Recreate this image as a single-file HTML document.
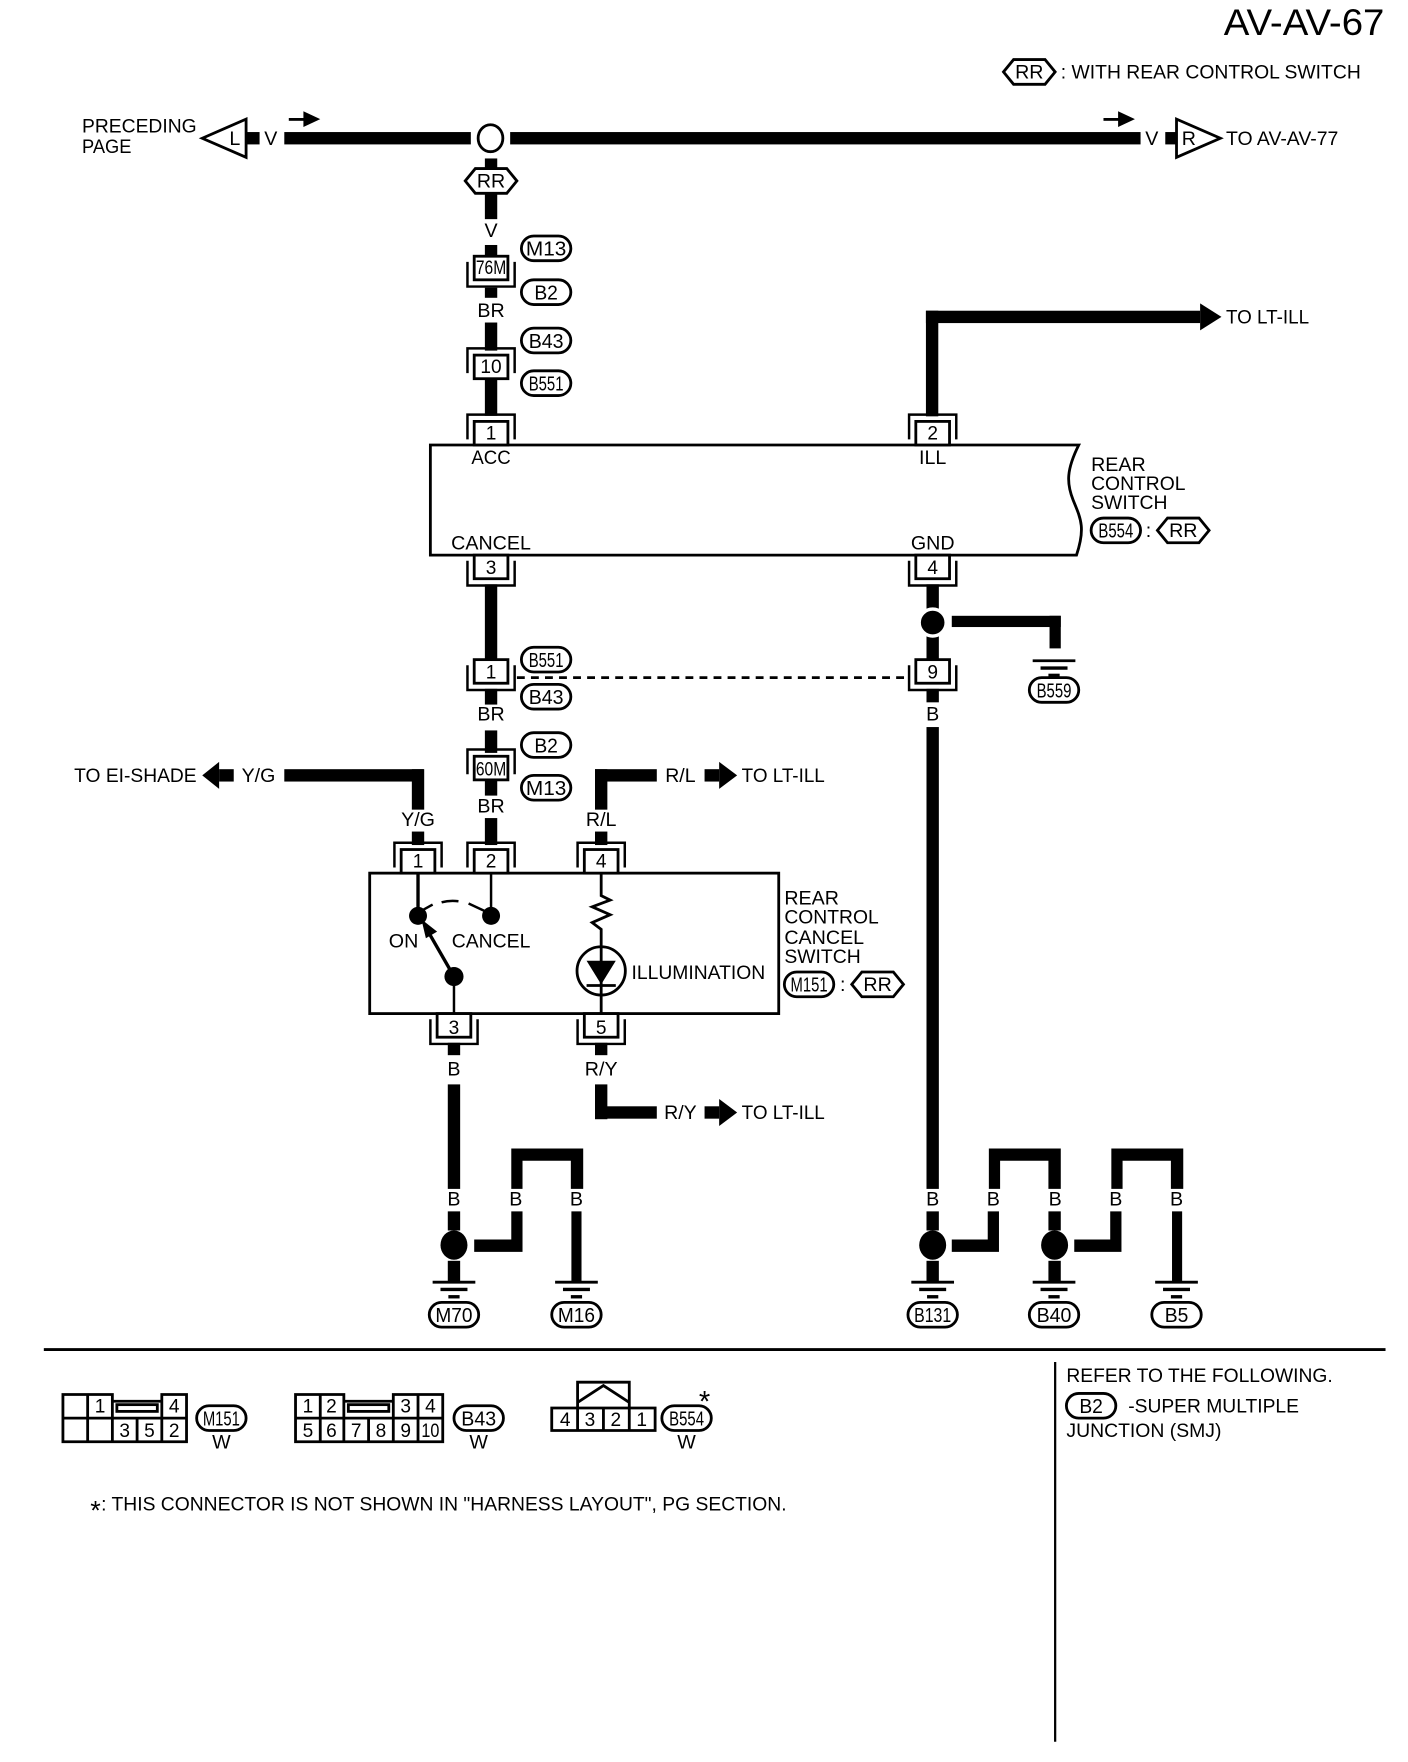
<!DOCTYPE html>
<html><head><meta charset="utf-8"><title>AV-AV-67</title>
<style>
html,body{margin:0;padding:0;background:#fff}
svg{display:block}
text{font-family:"Liberation Sans",sans-serif;font-size:17.5px;fill:#000}
.m{text-anchor:middle}
.n{font-size:17px;text-anchor:middle}
.p{font-size:18px;text-anchor:middle}
</style></head><body>
<svg width="1408" height="1762" viewBox="0 0 1253 1568" xmlns="http://www.w3.org/2000/svg">
<defs>
<g id="cT"><path d="M-21 22V0H21V22" fill="none" stroke="#000" stroke-width="2.2"/><rect x="-15" y="6" width="30" height="21" fill="#fff" stroke="#000" stroke-width="2.5"/></g>
<g id="cB"><path d="M-21 5V27H21V5" fill="none" stroke="#000" stroke-width="2.2"/><rect x="-15" y="0" width="30" height="21" fill="#fff" stroke="#000" stroke-width="2.5"/></g>
<polygon id="hx" points="-23,0 -14,-11 14,-11 23,0 14,11 -14,11" fill="#fff" stroke="#000" stroke-width="2.5"/>
<rect id="pl" x="-22" y="-11" width="44" height="22" rx="11" fill="#fff" stroke="#000" stroke-width="2.5"/>
<g id="gd"><path d="M-19 0H19" stroke="#000" stroke-width="2.5"/><path d="M-12 6.5H12" stroke="#000" stroke-width="3"/><path d="M-5 13H5" stroke="#000" stroke-width="3"/></g>
</defs>

<!-- title -->
<text x="1089" y="31" style="font-size:33px" textLength="143" lengthAdjust="spacingAndGlyphs">AV-AV-67</text>
<use href="#hx" x="916" y="64"/><text class="m" x="916" y="70">RR</text>
<text x="944" y="70" textLength="267" lengthAdjust="spacingAndGlyphs">: WITH REAR CONTROL SWITCH</text>

<!-- top wires -->
<g fill="#000">
<rect x="220" y="117.5" width="11" height="11"/>
<rect x="253" y="117.5" width="166" height="11"/>
<rect x="454" y="117.5" width="561" height="11"/>
<rect x="1037" y="117.5" width="10" height="11"/>
<rect x="257" y="105" width="14" height="2.5"/><polygon points="270,99 285,106 270,113"/>
<rect x="982" y="105" width="14" height="2.5"/><polygon points="995,99 1010,106 995,113"/>
</g>
<polygon points="180,123 219,106 219,140" fill="#fff" stroke="#000" stroke-width="2.5"/>
<polygon points="1047,106 1086,123 1047,140" fill="#fff" stroke="#000" stroke-width="2.5"/>
<text class="m" x="209" y="129">L</text><text class="m" x="1058" y="129">R</text>
<text class="m" x="241" y="129">V</text><text class="m" x="1025" y="129">V</text>
<text x="73" y="118" textLength="102" lengthAdjust="spacingAndGlyphs">PRECEDING</text>
<text x="73" y="136" textLength="44" lengthAdjust="spacingAndGlyphs">PAGE</text>
<text x="1091" y="129" textLength="100" lengthAdjust="spacingAndGlyphs">TO AV-AV-77</text>
<ellipse cx="436.500" cy="123" rx="11" ry="12" fill="#fff" stroke="#000" stroke-width="2.5"/>

<!-- upper vertical wire x=437 -->
<g fill="#000">
<rect x="431.500" y="141" width="11" height="54"/>
<rect x="431.500" y="218" width="11" height="12"/>
<rect x="431.500" y="256" width="11" height="9"/>
<rect x="431.500" y="287" width="11" height="25"/>
<rect x="431.500" y="337" width="11" height="33"/>
<rect x="431.500" y="520" width="11" height="68"/>
<rect x="431.500" y="613" width="11" height="14"/>
<rect x="431.500" y="650" width="11" height="20"/>
<rect x="431.500" y="694" width="11" height="14"/>
<rect x="431.500" y="728" width="11" height="24"/>
</g>
<use href="#hx" x="437" y="161"/><text class="m" x="437" y="167">RR</text>
<text class="m" x="437" y="211">V</text>
<use href="#cB" x="437" y="228"/><text class="m" x="437" y="244" style="font-size:17px" textLength="27" lengthAdjust="spacingAndGlyphs">76M</text>
<text class="m" x="437" y="282">BR</text>
<use href="#cT" x="437" y="310"/><text class="n" x="437" y="332">10</text>
<use href="#pl" x="486" y="221"/><text class="p" x="486" y="227.500" textLength="36" lengthAdjust="spacingAndGlyphs">M13</text>
<use href="#pl" x="486" y="260"/><text class="p" x="486" y="266.500" textLength="21" lengthAdjust="spacingAndGlyphs">B2</text>
<use href="#pl" x="486" y="303"/><text class="p" x="486" y="309.500" textLength="31" lengthAdjust="spacingAndGlyphs">B43</text>
<use href="#pl" x="486" y="341"/><text class="p" x="486" y="347.500" textLength="31" lengthAdjust="spacingAndGlyphs">B551</text>

<!-- LT-ILL wire -->
<g fill="#000">
<rect x="824" y="276.500" width="244" height="11"/>
<rect x="824" y="276.500" width="11" height="94"/>
<polygon points="1068,270 1087,282 1068,294"/>
</g>
<text x="1091" y="288" textLength="74" lengthAdjust="spacingAndGlyphs">TO LT-ILL</text>

<!-- rear control switch box -->
<path d="M960 396H383V494H958C966 470 962 462 955 445C949 430 949 418 960 396Z" fill="#fff" stroke="#000" stroke-width="2.5"/>
<use href="#cT" x="437" y="369"/><text class="n" x="437" y="391">1</text>
<use href="#cT" x="830" y="369"/><text class="n" x="830" y="391">2</text>
<use href="#cB" x="437" y="494"/><text class="n" x="437" y="511">3</text>
<use href="#cB" x="830" y="494"/><text class="n" x="830" y="511">4</text>
<text class="m" x="437" y="413" textLength="35" lengthAdjust="spacingAndGlyphs">ACC</text><text class="m" x="830" y="413">ILL</text>
<text class="m" x="437" y="489">CANCEL</text><text class="m" x="830" y="489">GND</text>
<text x="971" y="419">REAR</text>
<text x="971" y="436" textLength="84" lengthAdjust="spacingAndGlyphs">CONTROL</text>
<text x="971" y="453" textLength="68" lengthAdjust="spacingAndGlyphs">SWITCH</text>
<use href="#pl" x="993" y="472"/><text class="p" x="993" y="478.500" textLength="31" lengthAdjust="spacingAndGlyphs">B554</text>
<text class="m" x="1022" y="478">:</text>
<use href="#hx" x="1053" y="472"/><text class="m" x="1053" y="478">RR</text>

<!-- gnd wire x=830 -->
<g fill="#000">
<rect x="824.500" y="520" width="11" height="68"/>
<rect x="847" y="548" width="97" height="10"/>
<rect x="934" y="548" width="10" height="29"/>
<rect x="824.500" y="613" width="11" height="12"/>
<rect x="824.500" y="647" width="11" height="411"/>
</g>
<circle cx="830" cy="554" r="12" fill="#000" stroke="#fff" stroke-width="3"/>
<use href="#gd" x="938" y="588"/>
<use href="#pl" x="938" y="614"/><text class="p" x="938" y="620.500" textLength="31" lengthAdjust="spacingAndGlyphs">B559</text>

<!-- connectors mid -->
<use href="#cB" x="437" y="587"/><text class="n" x="437" y="604">1</text>
<use href="#cB" x="830" y="587"/><text class="n" x="830" y="604">9</text>
<path d="M460 603H806" stroke="#000" stroke-width="2.5" stroke-dasharray="7 5.500"/>
<use href="#pl" x="486" y="587"/><text class="p" x="486" y="593.500" textLength="31" lengthAdjust="spacingAndGlyphs">B551</text>
<use href="#pl" x="486" y="620"/><text class="p" x="486" y="626.500" textLength="31" lengthAdjust="spacingAndGlyphs">B43</text>
<use href="#pl" x="486" y="663"/><text class="p" x="486" y="669.500" textLength="21" lengthAdjust="spacingAndGlyphs">B2</text>
<use href="#pl" x="486" y="701"/><text class="p" x="486" y="707.500" textLength="36" lengthAdjust="spacingAndGlyphs">M13</text>
<text class="m" x="437" y="641">BR</text><text class="m" x="830" y="641">B</text>
<use href="#cT" x="437" y="667"/><text class="m" x="437" y="690" style="font-size:17px" textLength="27" lengthAdjust="spacingAndGlyphs">60M</text>
<text class="m" x="437" y="723">BR</text>

<!-- Y/G and R/L -->
<g fill="#000">
<rect x="253" y="684.500" width="124" height="11"/>
<rect x="366.500" y="684.500" width="11" height="36"/>
<rect x="366.500" y="740" width="11" height="12"/>
<rect x="195" y="684.500" width="13" height="11"/><polygon points="180,690 195,678 195,702"/>
<rect x="529.500" y="684.500" width="55" height="11"/>
<rect x="529.500" y="684.500" width="11" height="36"/>
<rect x="529.500" y="740" width="11" height="12"/>
<rect x="627" y="684.500" width="13" height="11"/><polygon points="640,678 656,690 640,702"/>
</g>
<text x="66" y="696" textLength="109" lengthAdjust="spacingAndGlyphs">TO EI-SHADE</text>
<text x="215" y="696" textLength="30" lengthAdjust="spacingAndGlyphs">Y/G</text>
<text class="m" x="372" y="735">Y/G</text><text class="m" x="535" y="735">R/L</text>
<text x="592" y="696" textLength="27" lengthAdjust="spacingAndGlyphs">R/L</text>
<text x="660" y="696" textLength="74" lengthAdjust="spacingAndGlyphs">TO LT-ILL</text>

<!-- cancel switch box -->
<rect x="329" y="777" width="364" height="125" fill="#fff" stroke="#000" stroke-width="2.5"/>
<use href="#cT" x="372" y="750"/><text class="n" x="372" y="772">1</text>
<use href="#cT" x="437" y="750"/><text class="n" x="437" y="772">2</text>
<use href="#cT" x="535" y="750"/><text class="n" x="535" y="772">4</text>
<use href="#cB" x="404" y="902"/><text class="n" x="404" y="920">3</text>
<use href="#cB" x="535" y="902"/><text class="n" x="535" y="920">5</text>
<g fill="#000" stroke="#000">
<path d="M372 777V815" stroke-width="3" fill="none"/>
<path d="M437 777V815" stroke-width="2.200" fill="none"/>
<path d="M404 869V902" stroke-width="2.200" fill="none"/>
<circle cx="372" cy="815" r="8" stroke="none"/>
<circle cx="437" cy="815" r="8" stroke="none"/>
<circle cx="404" cy="869" r="8.500" stroke="none"/>
<path d="M404 869L381 829" stroke-width="3" fill="none"/>
<polygon points="375,818 389,829 379,835" stroke="none"/>
<path d="M376 810L385 805" stroke-width="2.200" fill="none"/>
<path d="M393 803Q400 801 408 802" stroke-width="2.200" fill="none"/>
<path d="M417 804L432 811" stroke-width="2.200" fill="none"/>
<path d="M535 777V797L543 801L527 807L543 814L527 821L535 827V902" stroke-width="2.500" fill="none"/>
<circle cx="535" cy="864" r="21.500" fill="none" stroke-width="2.500"/>
<polygon points="522,855 548,855 535,876" stroke="none"/>
<path d="M522 877H548" stroke-width="2.500" fill="none"/>
</g>
<text x="346" y="843">ON</text>
<text x="402" y="843" textLength="70" lengthAdjust="spacingAndGlyphs">CANCEL</text>
<text x="562" y="871" textLength="119" lengthAdjust="spacingAndGlyphs">ILLUMINATION</text>
<text x="698" y="805">REAR</text>
<text x="698" y="822" textLength="84" lengthAdjust="spacingAndGlyphs">CONTROL</text>
<text x="698" y="840" textLength="71" lengthAdjust="spacingAndGlyphs">CANCEL</text>
<text x="698" y="857" textLength="68" lengthAdjust="spacingAndGlyphs">SWITCH</text>
<use href="#pl" x="720" y="876"/><text class="p" x="720" y="882.500" textLength="33" lengthAdjust="spacingAndGlyphs">M151</text>
<text class="m" x="750" y="882">:</text>
<use href="#hx" x="781" y="876"/><text class="m" x="781" y="882">RR</text>

<!-- lower wires -->
<g fill="#000">
<rect x="398.500" y="928" width="11" height="11"/>
<rect x="398.500" y="965" width="11" height="93"/>
<rect x="529.500" y="928" width="11" height="11"/>
<rect x="529.500" y="965" width="11" height="31"/>
<rect x="529.500" y="984.500" width="55" height="11"/>
<rect x="627" y="984.500" width="13" height="11"/><polygon points="640,978 656,990 640,1002"/>
<!-- bridges -->
<path d="M455 1022H519V1058H508V1033H465V1058H455Z"/>
<path d="M880 1022H944V1058H933V1033H890V1058H880Z"/>
<path d="M989 1022H1053V1058H1042V1033H999V1058H989Z"/>
<!-- below labels -->
<rect x="398.500" y="1078" width="11" height="17"/>
<rect x="398.500" y="1122" width="11" height="18"/>
<path d="M422 1103H455V1078H465V1114H422Z"/>
<rect x="508.500" y="1078" width="9" height="62"/>
<rect x="824.500" y="1078" width="11" height="17"/>
<rect x="824.500" y="1122" width="11" height="18"/>
<path d="M847 1103H879V1078H889V1114H847Z"/>
<rect x="933" y="1078" width="11" height="17"/>
<rect x="933" y="1122" width="11" height="18"/>
<path d="M956 1103H988V1078H998V1114H956Z"/>
<rect x="1043" y="1078" width="9" height="62"/>
<ellipse cx="404" cy="1108" rx="12" ry="13"/>
<ellipse cx="830" cy="1108" rx="12" ry="13"/>
<ellipse cx="938.500" cy="1108" rx="12" ry="13"/>
</g>
<text class="m" x="404" y="957">B</text><text class="m" x="535" y="957">R/Y</text>
<text x="591" y="996" textLength="29" lengthAdjust="spacingAndGlyphs">R/Y</text>
<text x="660" y="996" textLength="74" lengthAdjust="spacingAndGlyphs">TO LT-ILL</text>
<text class="m" x="404" y="1073">B</text><text class="m" x="459" y="1073">B</text><text class="m" x="513" y="1073">B</text>
<text class="m" x="830" y="1073">B</text><text class="m" x="884" y="1073">B</text><text class="m" x="939" y="1073">B</text><text class="m" x="993" y="1073">B</text><text class="m" x="1047" y="1073">B</text>
<use href="#gd" x="404" y="1141"/><use href="#gd" x="513" y="1141"/><use href="#gd" x="830" y="1141"/><use href="#gd" x="938" y="1141"/><use href="#gd" x="1047" y="1141"/>
<use href="#pl" x="404" y="1170"/><text class="p" x="404" y="1176.500" textLength="33" lengthAdjust="spacingAndGlyphs">M70</text>
<use href="#pl" x="513" y="1170"/><text class="p" x="513" y="1176.500" textLength="33" lengthAdjust="spacingAndGlyphs">M16</text>
<use href="#pl" x="830" y="1170"/><text class="p" x="830" y="1176.500" textLength="33" lengthAdjust="spacingAndGlyphs">B131</text>
<use href="#pl" x="938" y="1170"/><text class="p" x="938" y="1176.500" textLength="31" lengthAdjust="spacingAndGlyphs">B40</text>
<use href="#pl" x="1047" y="1170"/><text class="p" x="1047" y="1176.500" textLength="21" lengthAdjust="spacingAndGlyphs">B5</text>

<!-- dividers -->
<path d="M39 1201H1233" stroke="#000" stroke-width="2.500"/>
<path d="M939 1212V1550" stroke="#000" stroke-width="2"/>

<!-- connector M151 -->
<g fill="none" stroke="#000" stroke-width="2.500">
<path d="M56 1241H100V1247H144V1241H166V1283H56ZM56 1262H166M78 1241V1283M100 1241V1262M100 1262V1283M122 1262V1283M144 1241V1283"/>
<rect x="104" y="1250" width="36" height="6"/>
<path d="M263 1241H306V1247H350V1241H394V1283H263ZM263 1262H394M285 1241V1283M306 1241V1283M328 1262V1283M350 1241V1283M372 1241V1283"/>
<rect x="310" y="1250" width="36" height="6"/>
<path d="M491 1253H583V1273H491ZM514 1253V1273M537 1253V1273M560 1253V1273"/>
<path d="M514 1253V1230H560V1253M514 1248L537 1233L560 1248"/>
</g>
<text class="n" x="89" y="1257">1</text><text class="n" x="155" y="1257">4</text>
<text class="n" x="111" y="1279">3</text><text class="n" x="133" y="1279">5</text><text class="n" x="155" y="1279">2</text>
<text class="n" x="274" y="1257">1</text><text class="n" x="295" y="1257">2</text><text class="n" x="361" y="1257">3</text><text class="n" x="383" y="1257">4</text>
<text class="n" x="274" y="1279">5</text><text class="n" x="295" y="1279">6</text><text class="n" x="317" y="1279">7</text><text class="n" x="339" y="1279">8</text><text class="n" x="361" y="1279">9</text>
<text class="n" x="383" y="1279" textLength="16" lengthAdjust="spacingAndGlyphs">10</text>
<text class="n" x="503" y="1269">4</text><text class="n" x="525" y="1269">3</text><text class="n" x="548" y="1269">2</text><text class="n" x="571" y="1269">1</text>
<use href="#pl" x="197" y="1262"/><text class="p" x="197" y="1268.500" textLength="33" lengthAdjust="spacingAndGlyphs">M151</text>
<use href="#pl" x="426" y="1262"/><text class="p" x="426" y="1268.500" textLength="31" lengthAdjust="spacingAndGlyphs">B43</text>
<use href="#pl" x="611" y="1262"/><text class="p" x="611" y="1268.500" textLength="31" lengthAdjust="spacingAndGlyphs">B554</text>
<text class="m" x="627" y="1256" style="font-size:26px">*</text>
<text class="m" x="197" y="1289">W</text><text class="m" x="426" y="1289">W</text><text class="m" x="611" y="1289">W</text>

<text class="m" x="85" y="1352" style="font-size:24px">*</text>
<text x="90" y="1344" textLength="610" lengthAdjust="spacingAndGlyphs">: THIS CONNECTOR IS NOT SHOWN IN "HARNESS LAYOUT", PG SECTION.</text>
<text x="949" y="1230" textLength="237" lengthAdjust="spacingAndGlyphs">REFER TO THE FOLLOWING.</text>
<use href="#pl" x="971" y="1251"/><text class="p" x="971" y="1257.500" textLength="21" lengthAdjust="spacingAndGlyphs">B2</text>
<text x="1004" y="1257" textLength="152" lengthAdjust="spacingAndGlyphs">-SUPER MULTIPLE</text>
<text x="949" y="1279" textLength="138" lengthAdjust="spacingAndGlyphs">JUNCTION (SMJ)</text>
</svg>
</body></html>
